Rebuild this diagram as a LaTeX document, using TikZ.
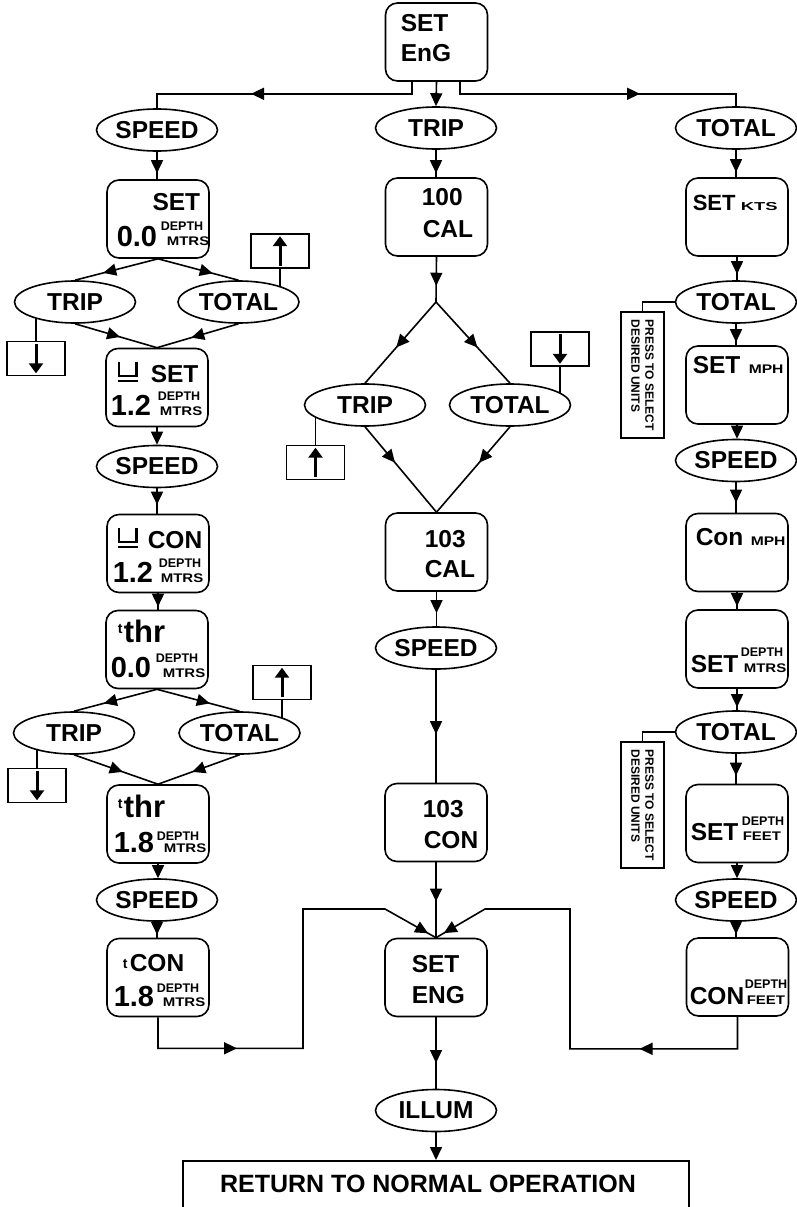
\documentclass[tikz,border=0pt]{standalone}
\usepackage{fontspec}
\setmainfont{Liberation Sans}
\usepackage{graphicx}
\usetikzlibrary{shapes.geometric,arrows.meta,decorations.markings,calc}
\pgfdeclarelayer{bg}
\pgfsetlayers{bg,main}
\newcommand\myfs[1]{\fontsize{#1}{#1}\selectfont}
\newcommand\ubarsym{\vbox{\hbox{\vrule width2.5pt height12.5pt\kern15pt\vrule width2.5pt height12.5pt}\hrule height2.5pt\kern2.5pt\hrule height2.5pt}}
\newcommand\mtrs{\scalebox{1.2}[1]{MTRS}}
\newcommand\feet{\scalebox{1.2}[1]{FEET}}
\newcommand\mph{\scalebox{1.25}[1]{MPH}}
\begin{document}
\begin{tikzpicture}[x=1pt,y=-1pt,line width=1.6pt,font=\bfseries,
  box/.style={draw,rounded corners=12pt,minimum width=102,minimum height=78,inner sep=0},
  ell/.style={draw,ellipse,fill=white,minimum width=121,minimum height=42,inner sep=0,font=\bfseries\myfs{24.5}},
  abox/.style={draw,minimum width=58,minimum height=34,inner sep=0},
  pbox/.style={draw,rotate=-90,minimum width=126,minimum height=43,inner sep=0,align=left,font=\bfseries\fontsize{12}{14}\selectfont},
  tx/.style={anchor=base west,inner sep=0,font=\bfseries\myfs{24.5}},
  sm/.style={anchor=base west,inner sep=0,font=\bfseries\myfs{12.5}},
  bignum/.style={anchor=base west,inner sep=0,font=\bfseries\myfs{29}},
  tsup/.style={anchor=base west,inner sep=0,font=\bfseries\myfs{14}},
  endarr/.style={-{Triangle[length=13pt,width=12pt]}},
  arrowat/.style={postaction={decorate,decoration={markings,mark=at position #1 with {\arrow{Triangle[length=13pt,width=12pt]}}}}},
  bigarr/.style={line width=3pt,-{Triangle[length=10pt,width=14pt]}}
]
\useasboundingbox (0,0) rectangle (796,1207);

% ---------- middle column ----------
\node[box] (engtop) at (436.5,42) {};
\node[tx] (engtopa) at (400,32) {SET};
\node[tx] (engtopb) at (400,62) {EnG};
\node[ell] (tripm1) at (436,128) {TRIP};
\node[box] (cal100) at (436.5,217) {};
\node[tx] (cal100a) at (421,205) {100};
\node[tx] (cal100b) at (422,237) {CAL};
\coordinate (dtop) at (436,302);
\node[ell] (tripm2) at (365,405) {TRIP};
\node[ell] (totm2) at (510,405) {TOTAL};
\node[abox] (downB) at (560,349) {};
\node[abox] (upB) at (315.5,462.5) {};
\node[box] (cal103) at (436.5,552) {};
\node[tx] (cal103a) at (424,547) {103};
\node[tx] (cal103b) at (424,577) {CAL};
\node[ell] (speedm) at (436,648) {SPEED};
\node[box] (con103) at (436,822.5) {};
\node[tx] (con103a) at (422,817) {103};
\node[tx] (con103b) at (423,848) {CON};
\node[box] (seteng) at (436,977.5) {};
\node[tx] (setenga) at (411,972) {SET};
\node[tx] (setengb) at (411,1003) {ENG};
\node[ell] (illum) at (436,1110.5) {ILLUM};
\node[draw,minimum width=506,minimum height=100,anchor=north,inner sep=0] (ret) at (436,1160) {};
\node[anchor=base,inner sep=0,font=\bfseries\myfs{25}] (rettxt) at (428,1192) {RETURN TO NORMAL OPERATION};

% ---------- left column ----------
\node[ell] (speedl1) at (157,130) {SPEED};
\node[box] (set00) at (158,219) {};
\node[tx,anchor=base east] (set00a) at (201,210) {SET};
\node[bignum] (set00b) at (116,246) {0.0};
\node[sm] (set00c) at (160,230) {DEPTH};
\node[sm] (set00d) at (166,245) {\mtrs};
\node[ell] (tripl1) at (75,302) {TRIP};
\node[ell] (totl1) at (238.5,302) {TOTAL};
\node[abox] (upA) at (280,251) {};
\node[abox] (downA) at (36,358.5) {};
\node[box] (uset12) at (157,387.5) {};
\node[tx] (uset12a) at (117,382) {\ubarsym};
\node[tx] (uset12b) at (150,382) {SET};
\node[bignum] (uset12c) at (110,415) {1.2};
\node[sm] (uset12d) at (157,400) {DEPTH};
\node[sm] (uset12e) at (159,415) {\mtrs};
\node[ell] (speedl2) at (157,466.5) {SPEED};
\node[box] (ucon12) at (158,553.5) {};
\node[tx] (ucon12a) at (117,548) {\ubarsym};
\node[tx] (ucon12b) at (147,548) {CON};
\node[bignum] (ucon12c) at (112,582) {1.2};
\node[sm] (ucon12d) at (158,567) {DEPTH};
\node[sm] (ucon12e) at (160,582) {\mtrs};
\node[box] (tthr00) at (157,649.5) {};
\node[tsup] (tthr00a) at (117,633) {t};
\node[tx,font=\bfseries\myfs{31}] (tthr00b) at (123,642) {thr};
\node[bignum] (tthr00c) at (110,677) {0.0};
\node[sm] (tthr00d) at (155,662) {DEPTH};
\node[sm] (tthr00e) at (162,677) {\mtrs};
\node[ell] (tripl2) at (74,733) {TRIP};
\node[ell] (totl2) at (239.5,733) {TOTAL};
\node[abox] (upC) at (282,682.5) {};
\node[abox] (downC) at (37,785.5) {};
\node[box] (tthr18) at (158,824) {};
\node[tsup] (tthr18a) at (117,808) {t};
\node[tx,font=\bfseries\myfs{31}] (tthr18b) at (123,817) {thr};
\node[bignum] (tthr18c) at (113,852) {1.8};
\node[sm] (tthr18d) at (156,840) {DEPTH};
\node[sm] (tthr18e) at (163,852) {\mtrs};
\node[ell] (speedl3) at (157,900) {SPEED};
\node[box] (tcon18) at (158,977.5) {};
\node[tsup] (tcon18a) at (122,968) {t};
\node[tx] (tcon18b) at (129,971) {CON};
\node[bignum] (tcon18c) at (113,1006) {1.8};
\node[sm] (tcon18d) at (156,992) {DEPTH};
\node[sm] (tcon18e) at (162,1006) {\mtrs};

% ---------- right column ----------
\node[ell] (totr1) at (736,128) {TOTAL};
\node[box] (setkts) at (737,217) {};
\node[tx,font=\bfseries\myfs{22}] (setktsa) at (692,210) {SET};
\node[sm,font=\bfseries\myfs{11.5}] (setktsb) at (740,210) {\scalebox{1.6}[1]{KTS}};
\node[ell] (totr2) at (736,302) {TOTAL};
\node[pbox] (press1) at (642.5,375) {PRESS TO SELECT\\DESIRED UNITS};
\node[box] (setmph) at (737,385) {};
\node[tx] (setmpha) at (692,373) {SET};
\node[sm] (setmphb) at (748,373) {\mph};
\node[ell] (speedr1) at (736,460.5) {SPEED};
\node[box] (conmph) at (737,552.5) {};
\node[tx] (conmpha) at (695,545) {Con};
\node[sm] (conmphb) at (750,545) {\mph};
\node[box] (setmtrs) at (737,649) {};
\node[tx] (setmtrsa) at (690,672) {SET};
\node[sm] (setmtrsb) at (740,656) {DEPTH};
\node[sm] (setmtrsc) at (743,672) {\mtrs};
\node[ell] (totr3) at (736,732) {TOTAL};
\node[pbox] (press2) at (642.5,805) {PRESS TO SELECT\\DESIRED UNITS};
\node[box] (setfeet) at (737,823.5) {};
\node[tx] (setfeeta) at (690,840) {SET};
\node[sm] (setfeetb) at (741,825) {DEPTH};
\node[sm] (setfeetc) at (742,840) {\feet};
\node[ell] (speedr2) at (736,900) {SPEED};
\node[box] (confeet) at (737.5,977) {};
\node[tx] (confeeta) at (689,1004) {CON};
\node[sm] (confeetb) at (744,988) {DEPTH};
\node[sm] (confeetc) at (746,1004) {\feet};

% arrows inside small boxes
\draw[bigarr] ([yshift=3pt]upA.south) -- ([yshift=-3pt]upA.north);
\draw[bigarr] ([yshift=-3pt]downA.north) -- ([yshift=3pt]downA.south);
\draw[bigarr] ([yshift=-3pt]downB.north) -- ([yshift=3pt]downB.south);
\draw[bigarr] ([yshift=3pt]upB.south) -- ([yshift=-3pt]upB.north);
\draw[bigarr] ([yshift=3pt]upC.south) -- ([yshift=-3pt]upC.north);
\draw[bigarr] ([yshift=-3pt]downC.north) -- ([yshift=3pt]downC.south);

\begin{pgfonlayer}{bg}
\begin{scope}[line width=1.6pt]
% top split
\draw[arrowat=173pt] ([xshift=-24.5pt]engtop.south) -- ++(0,12) -| (speedl1.north);
\draw[arrowat=192pt] ([xshift=23.5pt]engtop.south) -- ++(0,12) -| (totr1.north);
\draw[endarr] (engtop.south) -- (tripm1.north);
% middle
\draw[arrowat=-4pt] (tripm1.south) -- (tripm1.south |- cal100.north);
\draw[arrowat=0.64] (cal100.south) -- (dtop);
\draw[arrowat=0.56] (dtop) -- (tripm2.north);
\draw[arrowat=0.56] (dtop) -- (totm2.north);
\draw[arrowat=0.42] (tripm2.south) -- (cal103.north);
\draw[arrowat=0.42] (totm2.south) -- (cal103.north);
\draw[arrowat=0.62] (cal103.south) -- (cal103.south |- speedm.north);
\draw[arrowat=0.57] (speedm.south) -- (speedm.south |- con103.north);
\draw[arrowat=0.52] (con103.south) -- (seteng.north);
\draw[arrowat=0.64] (seteng.south) -- (illum.north);
\draw[endarr] (illum.south) -- (illum.south |- ret.north);
% left
\draw[arrowat=-6pt] (speedl1.south) -- (speedl1.south |- set00.north);
\draw[arrowat=0.66] (set00.south) -- (tripl1.north);
\draw[arrowat=0.68] (set00.south) -- (totl1.north);
\draw[arrowat=0.55] (tripl1.south) -- (uset12.north);
\draw[arrowat=0.58] (totl1.south) -- (uset12.north);
\draw[endarr] (uset12.south) -- (uset12.south |- speedl2.north);
\draw[arrowat=-9pt] (speedl2.south) -- (speedl2.south |- ucon12.north);
\draw[arrowat=-3pt] (ucon12.south) -- (ucon12.south |- tthr00.north);
\draw[arrowat=0.64] (tthr00.south) -- (tripl2.north);
\draw[arrowat=0.64] (tthr00.south) -- (totl2.north);
\draw[arrowat=0.58] (tripl2.south) -- (tthr18.north);
\draw[arrowat=0.58] (totl2.south) -- (tthr18.north);
\draw[endarr] (tthr18.south) -- (tthr18.south |- speedl3.north);
\draw[arrowat=-3pt] (speedl3.south) -- (speedl3.south |- tcon18.north);
% small box links
\draw (upA.south) -- (upA.south |- totl1.center);
\draw (downA.north) -- (downA.north |- tripl1.center);
\draw (downB.south) -- (downB.south |- totm2.center);
\draw (upB.north) -- (upB.north |- tripm2.center);
\draw (upC.south) -- (upC.south |- totl2.center);
\draw (downC.north) -- (downC.north |- tripl2.center);
% right
\draw[arrowat=-5pt] (totr1.south) -- (totr1.south |- setkts.north);
\draw[arrowat=-6pt] (setkts.south) -- (setkts.south |- totr2.north);
\draw[arrowat=-3pt] (totr2.south) -- (totr2.south |- setmph.north);
\draw[endarr] (setmph.south) -- (setmph.south |- speedr1.north);
\draw[arrowat=-10pt] (speedr1.south) -- (speedr1.south |- conmph.north);
\draw[arrowat=-3pt] (conmph.south) -- (conmph.south |- setmtrs.north);
\draw[arrowat=-3pt] (setmtrs.south) -- (setmtrs.south |- totr3.north);
\draw[arrowat=-8pt] (totr3.south) -- (totr3.south |- setfeet.north);
\draw[endarr] (setfeet.south) -- (setfeet.south |- speedr2.north);
\draw[arrowat=-3pt] (speedr2.south) -- (speedr2.south |- confeet.north);
\draw (totr2.west) -| (press1.west);
\draw (totr3.west) -| (press2.west);
% bottom merges
\coordinate (ml1) at (303,909);
\coordinate (ml2) at (385,909);
\coordinate (mr1) at (570,909);
\coordinate (mr2) at (485,909);
\draw[arrowat=110pt,arrowat=-9pt] (tcon18.south) -- ++(0,31) -| (ml1) -- (ml2) -- (seteng.north);
\draw[arrowat=130pt,arrowat=-9pt] (confeet.south) -- ++(0,32) -| (mr1) -- (mr2) -- (seteng.north);
\end{scope}
\end{pgfonlayer}
\end{tikzpicture}
\end{document}
